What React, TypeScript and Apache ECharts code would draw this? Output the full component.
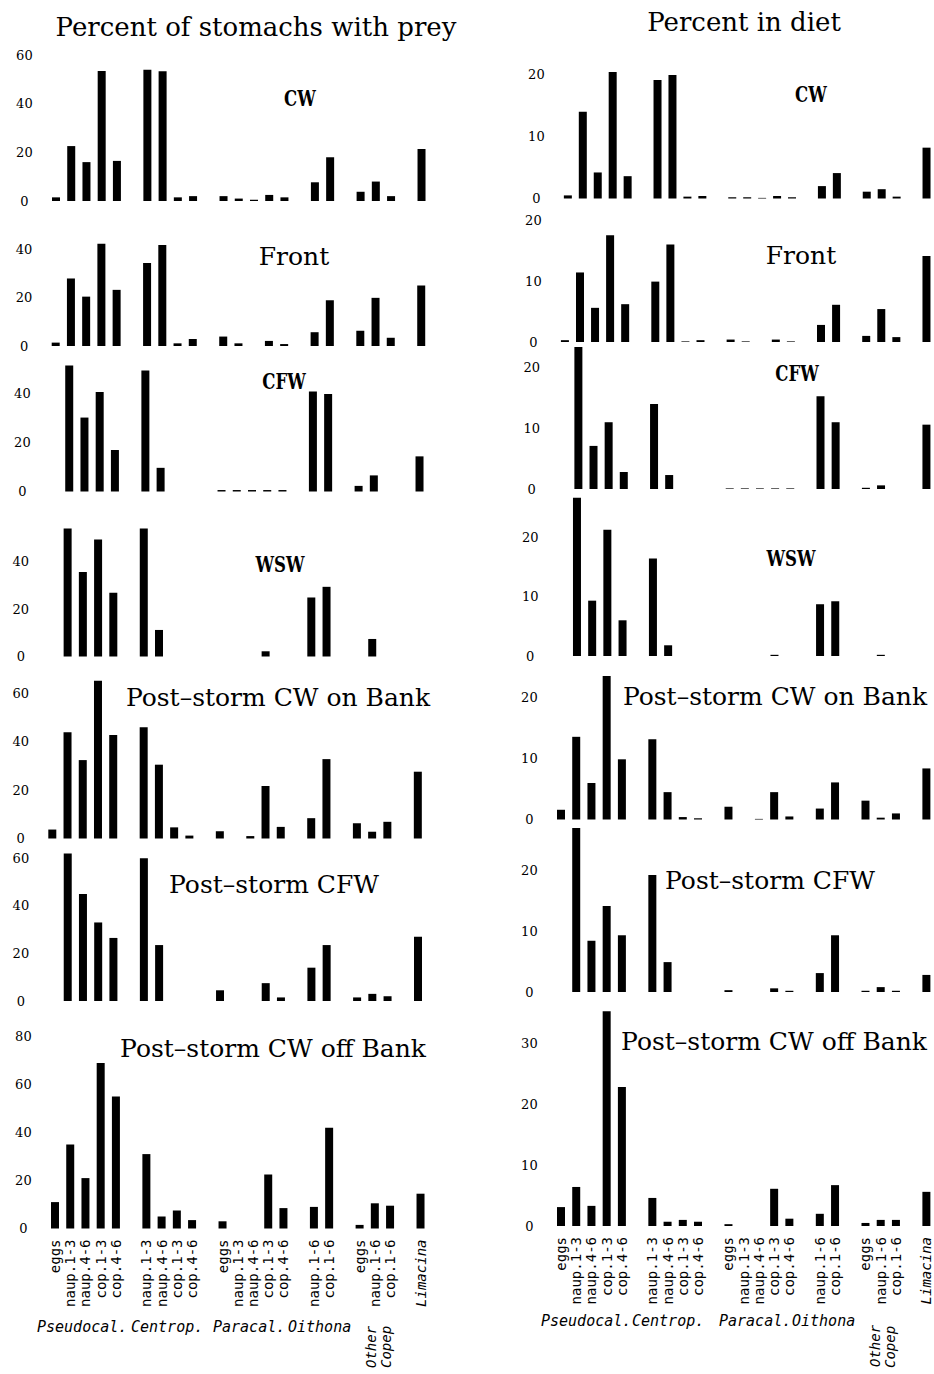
import React, { useEffect, useRef } from 'react';
import * as echarts from 'echarts';

// ---------- DATA ----------
const categories = [
  'eggs', 'naup.1-3', 'naup.4-6', 'cop.1-3', 'cop.4-6', '',
  'naup.1-3', 'naup.4-6', 'cop.1-3', 'cop.4-6', '',
  'eggs', 'naup.1-3', 'naup.4-6', 'cop.1-3', 'cop.4-6', '',
  'naup.1-6', 'cop.1-6', '',
  'eggs', 'naup.1-6', 'cop.1-6', '',
  'Limacina',
];

const groupNames = ['Pseudocal.', 'Centrop.', 'Paracal.', 'Oithona'];
const otherGroup = ['Other', 'Copep'];

const headerPrey = 'Percent of stomachs with prey';
const headerDiet = 'Percent in diet';
const panelTitles = ['CW', 'Front', 'CFW', 'WSW', 'Post–storm CW on Bank', 'Post–storm CFW', 'Post–storm CW off Bank'];

// Percent of stomachs with prey
const cwPrey = [1.5, 22.6, 16, 53.5, 16.5, null, 54, 53.4, 1.5, 2, null, 2, 1, 0.5, 2.5, 1.5, null, 7.7, 18, null, 3.8, 8, 2, null, 21.4];
const frontPrey = [1.4, 27.9, 20.4, 42.3, 23.2, null, 34.3, 41.7, 1.1, 2.9, null, 3.9, 1.1, 0, 2.1, 0.8, null, 5.7, 18.9, null, 6.3, 19.9, 3.4, null, 25];
const cfwPrey = [0, 51.6, 30.3, 40.8, 17, null, 49.6, 9.7, 0, 0, null, 0.6, 0.6, 0.6, 0.6, 0.6, null, 41, 40, null, 2.3, 6.6, 0, null, 14.4];
const wswPrey = [0, 54, 35.7, 49.4, 26.9, null, 54, 11.2, 0, 0, null, 0, 0, 0, 2.2, 0, null, 24.9, 29.4, null, 0, 7.4, 0, null, 0];
const onBankPrey = [3.7, 43.9, 32.4, 65.2, 42.8, null, 46, 30.5, 4.6, 1.2, null, 3, 0, 1, 21.7, 4.8, null, 8.4, 32.8, null, 6.3, 2.8, 6.9, null, 27.6];
const stormCfwPrey = [0, 62, 45, 33, 26.5, null, 60, 23.5, 0, 0, null, 4.5, 0, 0, 7.5, 1.5, null, 14, 23.5, null, 1.5, 3, 2, null, 27];
const offBankPrey = [11, 35, 21, 69, 55, null, 31, 5, 7.5, 3.5, null, 3, 0, 0, 22.5, 8.5, null, 9, 42, null, 1.5, 10.5, 9.5, null, 14.5];

// Percent in diet
const cwDiet = [0.5, 14, 4.2, 20.4, 3.6, null, 19.1, 19.9, 0.3, 0.4, null, 0.2, 0.2, 0.1, 0.4, 0.2, null, 2, 4.1, null, 1.1, 1.5, 0.3, null, 8.2];
const frontDiet = [0.3, 11.4, 5.6, 17.5, 6.2, null, 9.9, 16, 0.1, 0.3, null, 0.4, 0.1, 0, 0.4, 0.1, null, 2.8, 6.1, null, 1, 5.4, 0.8, null, 14.1];
const cfwDiet = [0, 23.4, 7.1, 11, 2.8, null, 14, 2.3, 0, 0, null, 0.1, 0.1, 0.1, 0.1, 0.1, null, 15.3, 11, null, 0.2, 0.6, 0, null, 10.6];
const wswDiet = [0, 26.6, 9.3, 21.2, 6, null, 16.4, 1.8, 0, 0, null, 0, 0, 0, 0.2, 0, null, 8.7, 9.2, null, 0, 0.2, 0, null, 0];
const onBankDiet = [1.6, 13.6, 6, 23.6, 9.9, null, 13.2, 4.5, 0.4, 0.2, null, 2.1, 0, 0.1, 4.5, 0.5, null, 1.8, 6.1, null, 3.1, 0.3, 1, null, 8.4];
const stormCfwDiet = [0, 26.9, 8.4, 14.1, 9.3, null, 19.2, 4.9, 0, 0, null, 0.3, 0, 0, 0.6, 0.2, null, 3.1, 9.3, null, 0.2, 0.8, 0.2, null, 2.8];
const offBankDiet = [3.1, 6.4, 3.3, 35.2, 22.8, null, 4.6, 0.7, 1, 0.7, null, 0.3, 0, 0, 6.1, 1.2, null, 2, 6.7, null, 0.5, 1, 1, null, 5.6];

// Tick labels
const preyTicks40 = [0, 20, 40];
const preyTicks60 = [0, 20, 40, 60];
const preyTicks80 = [0, 20, 40, 60, 80];
const dietTicks20 = [0, 10, 20];
const dietTicks30 = [0, 10, 20, 30];

const preySeries = [cwPrey, frontPrey, cfwPrey, wswPrey, onBankPrey, stormCfwPrey, offBankPrey];
const dietSeries = [cwDiet, frontDiet, cfwDiet, wswDiet, onBankDiet, stormCfwDiet, offBankDiet];
const preyTicks = [preyTicks60, preyTicks40, preyTicks40, preyTicks40, preyTicks60, preyTicks60, preyTicks80];
const dietTicks = [dietTicks20, dietTicks20, dietTicks20, dietTicks20, dietTicks20, dietTicks20, dietTicks30];

// ---------- LAYOUT ----------
const SLOT = 15.23;
const leftLayout = [
  { base: 201, ppu: 2.43, max: 60, slot0: 56, tx: 300, ty: 98 },
  { base: 346, ppu: 2.42, max: 50, slot0: 55.7, tx: 294, ty: 256 },
  { base: 491.5, ppu: 2.44, max: 55, slot0: 54, tx: 284, ty: 381 },
  { base: 656.5, ppu: 2.37, max: 55, slot0: 52.4, tx: 280, ty: 564 },
  { base: 838.5, ppu: 2.42, max: 70, slot0: 52.3, tx: 278, ty: 697 },
  { base: 1001, ppu: 2.38, max: 70, slot0: 52.5, tx: 274, ty: 884 },
  { base: 1228.5, ppu: 2.4, max: 80, slot0: 55, tx: 273, ty: 1048 },
];
const rightLayout = [
  { base: 198.5, ppu: 6.2, max: 25, slot0: 568, tx: 811, ty: 94 },
  { base: 342, ppu: 6.1, max: 25, slot0: 565, tx: 801, ty: 255 },
  { base: 489, ppu: 6.07, max: 25, slot0: 563.3, tx: 797, ty: 373 },
  { base: 656, ppu: 5.95, max: 30, slot0: 561.8, tx: 791, ty: 558 },
  { base: 819.5, ppu: 6.08, max: 25, slot0: 561, tx: 775, ty: 696 },
  { base: 992, ppu: 6.1, max: 30, slot0: 561, tx: 770, ty: 880 },
  { base: 1226, ppu: 6.1, max: 40, slot0: 561, tx: 774, ty: 1041 },
];

function buildOption() {
  const grids: any[] = [];
  const xAxes: any[] = [];
  const yAxes: any[] = [];
  const series: any[] = [];
  const graphics: any[] = [];

  const addPanel = (lay: any, data: any[], ticks: number[], interval: number, isBottom: boolean, title: string) => {
    const i = grids.length;
    grids.push({
      left: lay.slot0 - SLOT / 2,
      width: SLOT * categories.length,
      top: lay.base - lay.max * lay.ppu,
      height: lay.max * lay.ppu,
    });
    xAxes.push({
      type: 'category',
      gridIndex: i,
      data: categories,
      boundaryGap: true,
      axisLine: { show: false },
      axisTick: { show: false },
      splitLine: { show: false },
      axisLabel: {
        show: isBottom,
        interval: 0,
        rotate: 90,
        margin: 11,
        fontFamily: 'DejaVu Sans Mono',
        fontSize: 14,
        color: '#000',
        formatter: (v: string) => (v === 'Limacina' ? '{it|Limacina}' : v),
        rich: { it: { fontFamily: 'DejaVu Sans Mono', fontStyle: 'italic', fontSize: 14, color: '#000' } },
      },
    });
    yAxes.push({
      type: 'value',
      gridIndex: i,
      min: 0,
      max: lay.max,
      interval,
      axisLine: { show: false },
      axisTick: { show: false },
      splitLine: { show: false },
      axisLabel: {
        margin: 24,
        align: 'center',
        fontFamily: 'DejaVu Serif',
        fontSize: 13,
        color: '#000',
        formatter: (v: number) => (ticks.indexOf(v) >= 0 ? String(v) : ''),
      },
    });
    series.push({
      type: 'bar',
      xAxisIndex: i,
      yAxisIndex: i,
      data,
      barWidth: 8,
      clip: false,
      silent: true,
      itemStyle: { color: '#000' },
    });
    const short = title.length <= 3;
    graphics.push({
      type: 'text',
      x: lay.tx,
      y: lay.ty,
      scaleX: short ? 0.72 : 1,
      silent: true,
      style: {
        text: title,
        font: short ? 'bold 23px "DejaVu Serif"' : '25px "DejaVu Serif"',
        fill: '#000',
        align: 'center',
        textAlign: 'center',
        verticalAlign: 'middle',
        textVerticalAlign: 'middle',
      },
    });
  };

  for (let r = 0; r < 7; r++) {
    addPanel(leftLayout[r], preySeries[r], preyTicks[r], 20, r === 6, panelTitles[r]);
  }
  for (let r = 0; r < 7; r++) {
    addPanel(rightLayout[r], dietSeries[r], dietTicks[r], 10, r === 6, panelTitles[r]);
  }

  const txt = (text: string, x: number, y: number, font: string, align = 'center', rotation = 0) => ({
    type: 'text',
    x,
    y,
    rotation,
    silent: true,
    style: { text, font, fill: '#000', align, textAlign: align, verticalAlign: 'middle', textVerticalAlign: 'middle' },
  });

  graphics.push(txt(headerPrey, 256, 27, '26px "DejaVu Serif"'));
  graphics.push(txt(headerDiet, 744, 22, '26px "DejaVu Serif"'));

  const groupFont = 'italic 15px "DejaVu Sans Mono"';
  const leftGroupX = [37, 131, 213, 288];
  const rightGroupX = [541, 632, 719, 792];
  groupNames.forEach((g, k) => {
    graphics.push(txt(g, leftGroupX[k], 1327, groupFont, 'left'));
    graphics.push(txt(g, rightGroupX[k], 1321, groupFont, 'left'));
  });
  const otherFont = 'italic 14px "DejaVu Sans Mono"';
  graphics.push(txt(otherGroup[0], 371, 1368, otherFont, 'left', Math.PI / 2));
  graphics.push(txt(otherGroup[1], 386, 1368, otherFont, 'left', Math.PI / 2));
  graphics.push(txt(otherGroup[0], 874.5, 1367, otherFont, 'left', Math.PI / 2));
  graphics.push(txt(otherGroup[1], 890, 1368, otherFont, 'left', Math.PI / 2));

  return {
    animation: false,
    backgroundColor: '#fff',
    grid: grids,
    xAxis: xAxes,
    yAxis: yAxes,
    series,
    graphic: { elements: graphics },
  };
}

export default function App() {
  const ref = useRef<HTMLDivElement>(null);
  useEffect(() => {
    if (!ref.current) return;
    const chart = echarts.init(ref.current, undefined, { renderer: 'svg' });
    chart.setOption(buildOption() as any);
    return () => chart.dispose();
  }, []);
  return (
    <div
      ref={ref}
      style={{ position: 'absolute', left: 0, top: 0, width: 934, height: 1374, background: '#fff' }}
    />
  );
}
